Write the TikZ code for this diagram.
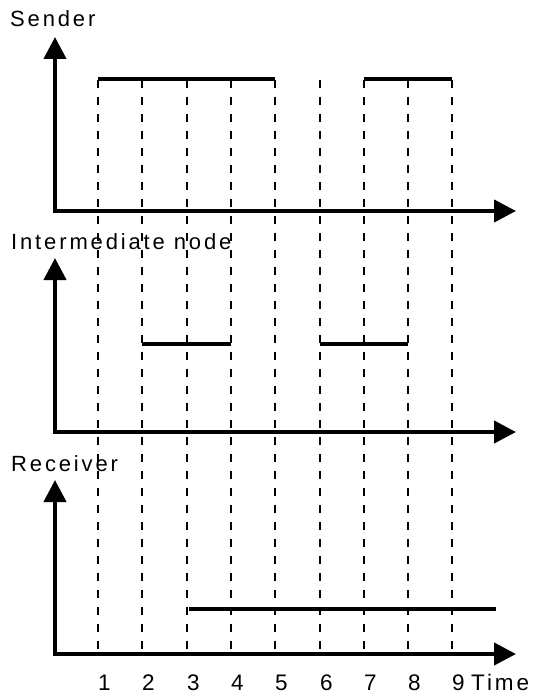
\documentclass[tikz,border=0pt]{standalone}
\usepackage{fontspec}
\setmainfont{Liberation Sans}
\newfontfamily\spaced[LetterSpace=13]{Liberation Sans}
\usetikzlibrary{arrows.meta}

\begin{document}
\begin{tikzpicture}[x=1pt,y=-1pt,
  axis/.style={line width=4.2pt, line join=miter,
    {Triangle[length=22pt,width=22pt]}-{Triangle[length=22pt,width=22pt]}},
  level/.style={line width=3.4pt},
  slot/.style={line width=2pt, dash pattern=on 8pt off 9pt},
  lbl/.style={font=\spaced\fontsize{22}{22}\selectfont, inner sep=0pt, anchor=base west},
  num/.style={lbl, font=\spaced\fontsize{22.5}{22.5}\selectfont}]
\useasboundingbox (0,0) rectangle (535,695);

% time slots: dashed guides and their numbers
\foreach \xx [count=\i] in {98,142,187,231,275,320,364,408,452} {
  \coordinate (g\i) at (\xx,80);
  \coordinate (b\i) at (\xx,654);
  \draw[slot] (g\i) -- (b\i);
  \node[num] (num\i) at (\xx,690) {\i};
}
\node[num] (time) at (471,690) {Time};

% transmission intervals
\draw[level] (98,79) -- (275,79);
\draw[level] (364,79) -- (452,79);
\draw[level] (142,344) -- (231,344);
\draw[level] (320,344) -- (408,344);
\draw[level] (189,609) -- (496,609);

% axes
\foreach \yy/\nm in {211/s,432/m,654/r} {
  \coordinate (\nm top) at (55,\yy-174);
  \coordinate (\nm end) at (516,\yy);
  \draw[axis] (\nm top) |- (\nm end);
}

% row titles
\node[lbl] (sender) at (10,27) {Sender};
\node[lbl] (inter) at (11,249) {Intermediate node};
\node[lbl] (recv) at (11,471) {Receiver};
\end{tikzpicture}
\end{document}
